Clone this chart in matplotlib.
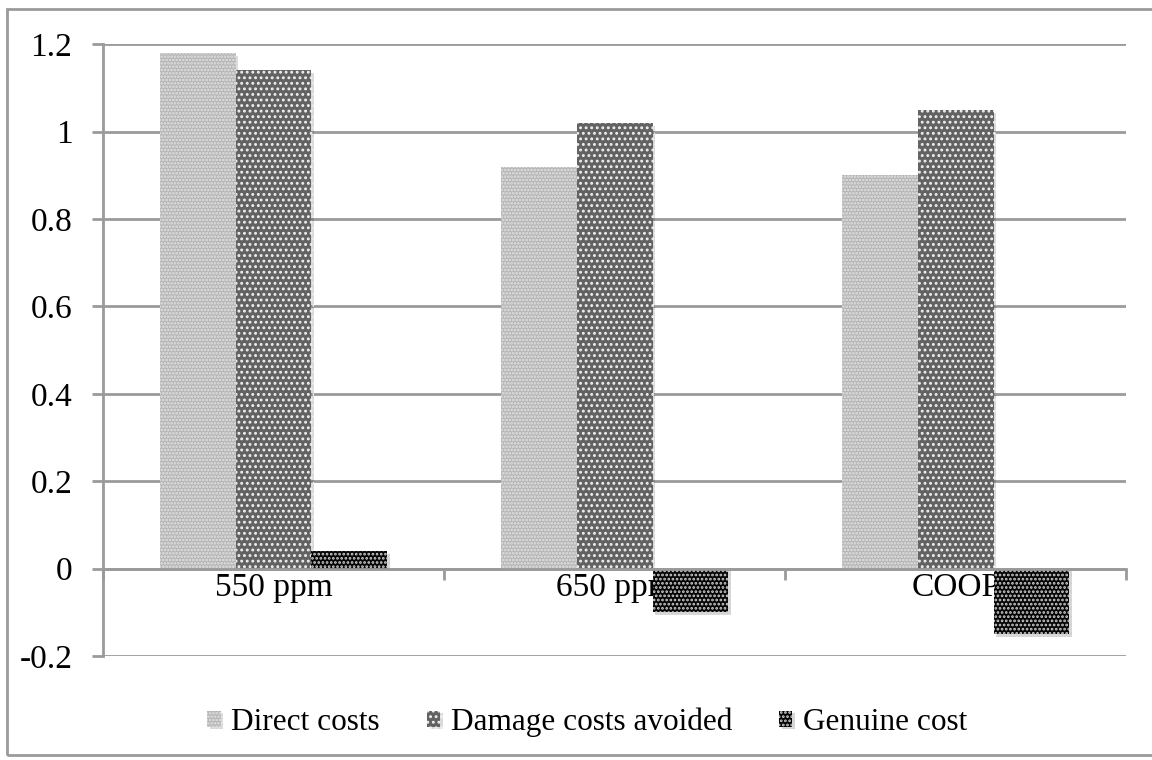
import numpy as np
import matplotlib
matplotlib.use("Agg")
from matplotlib import pyplot as plt
from matplotlib import patheffects as pe
from matplotlib.patches import Rectangle

plt.rcParams['font.family'] = ['Liberation Serif', 'DejaVu Serif']
plt.rcParams['hatch.linewidth'] = 1.3

# cost ratios per scenario
scenarios = ['550 ppm', '650 ppm', 'COOP']
direct_costs = [1.18, 0.92, 0.90]
damage_avoided = [1.14, 1.02, 1.05]
genuine_cost = [0.04, -0.10, -0.15]

series_names = ['Direct costs', 'Damage costs avoided', 'Genuine cost']
yticks = [-0.2, 0, 0.2, 0.4, 0.6, 0.8, 1, 1.2]
ytick_labels = ['-0.2', '0', '0.2', '0.4', '0.6', '0.8', '1', '1.2']

styles = [
    dict(facecolor='#b4b4b4', edgecolor='#e4e4e4', hatch='.....'),
    dict(facecolor='#626262', edgecolor='#f0f0f0', hatch='...'),
    dict(facecolor='#050505', edgecolor='#d0d0d0', hatch='....'),
]

fig = plt.figure(figsize=(11.52, 7.6), dpi=100)
ax = fig.add_axes([0.0894, 0.1368, 0.8884, 0.805])

x = np.arange(len(scenarios))
w = 0.222
shadow = [pe.SimplePatchShadow(offset=(2, -2), shadow_rgbFace='black', alpha=0.15), pe.Normal()]
handles = []
for i, vals in enumerate([direct_costs, damage_avoided, genuine_cost]):
    bars = ax.bar(x + (i - 1) * w, vals, w, linewidth=0, label=series_names[i], **styles[i])
    for b in bars:
        b.set_path_effects(shadow)
    handles.append(bars)

ax.set_xlim(-0.5, 2.5)
ax.set_ylim(-0.2, 1.2)
ax.set_axisbelow(True)

grey = '#9a9a9a'
ax.set_yticks(yticks)
ax.set_yticklabels(ytick_labels)
ax.yaxis.grid(True, color=grey, linewidth=2)
ax.tick_params(axis='y', length=8, width=2, color=grey, pad=14, labelsize=24)

# x axis drawn along zero, category names between the boundary ticks
ax.spines['bottom'].set_position(('data', 0))
ax.set_xticks([-0.5, 0.5, 1.5, 2.5])
ax.set_xticklabels([])
ax.set_xticks(x, minor=True)
ax.set_xticklabels(scenarios, minor=True)
ax.tick_params(axis='x', which='major', length=8, width=2, color=grey, direction='out')
ax.tick_params(axis='x', which='minor', length=0, pad=3, labelsize=24)

for s in ['top', 'right']:
    ax.spines[s].set_visible(False)
for s in ['left', 'bottom']:
    ax.spines[s].set_color(grey)
    ax.spines[s].set_linewidth(2)

fig.legend(handles=handles, loc='center', bbox_to_anchor=(0.51, 0.05),
           ncol=3, frameon=False, fontsize=22.5, handlelength=0.42, handleheight=0.42,
           handletextpad=0.35, columnspacing=1.5)

fig.add_artist(Rectangle((0.006, 0.006), 1.0, 0.982, transform=fig.transFigure,
                         fill=False, edgecolor=grey, linewidth=2))

fig.savefig('out.png', dpi=100)
